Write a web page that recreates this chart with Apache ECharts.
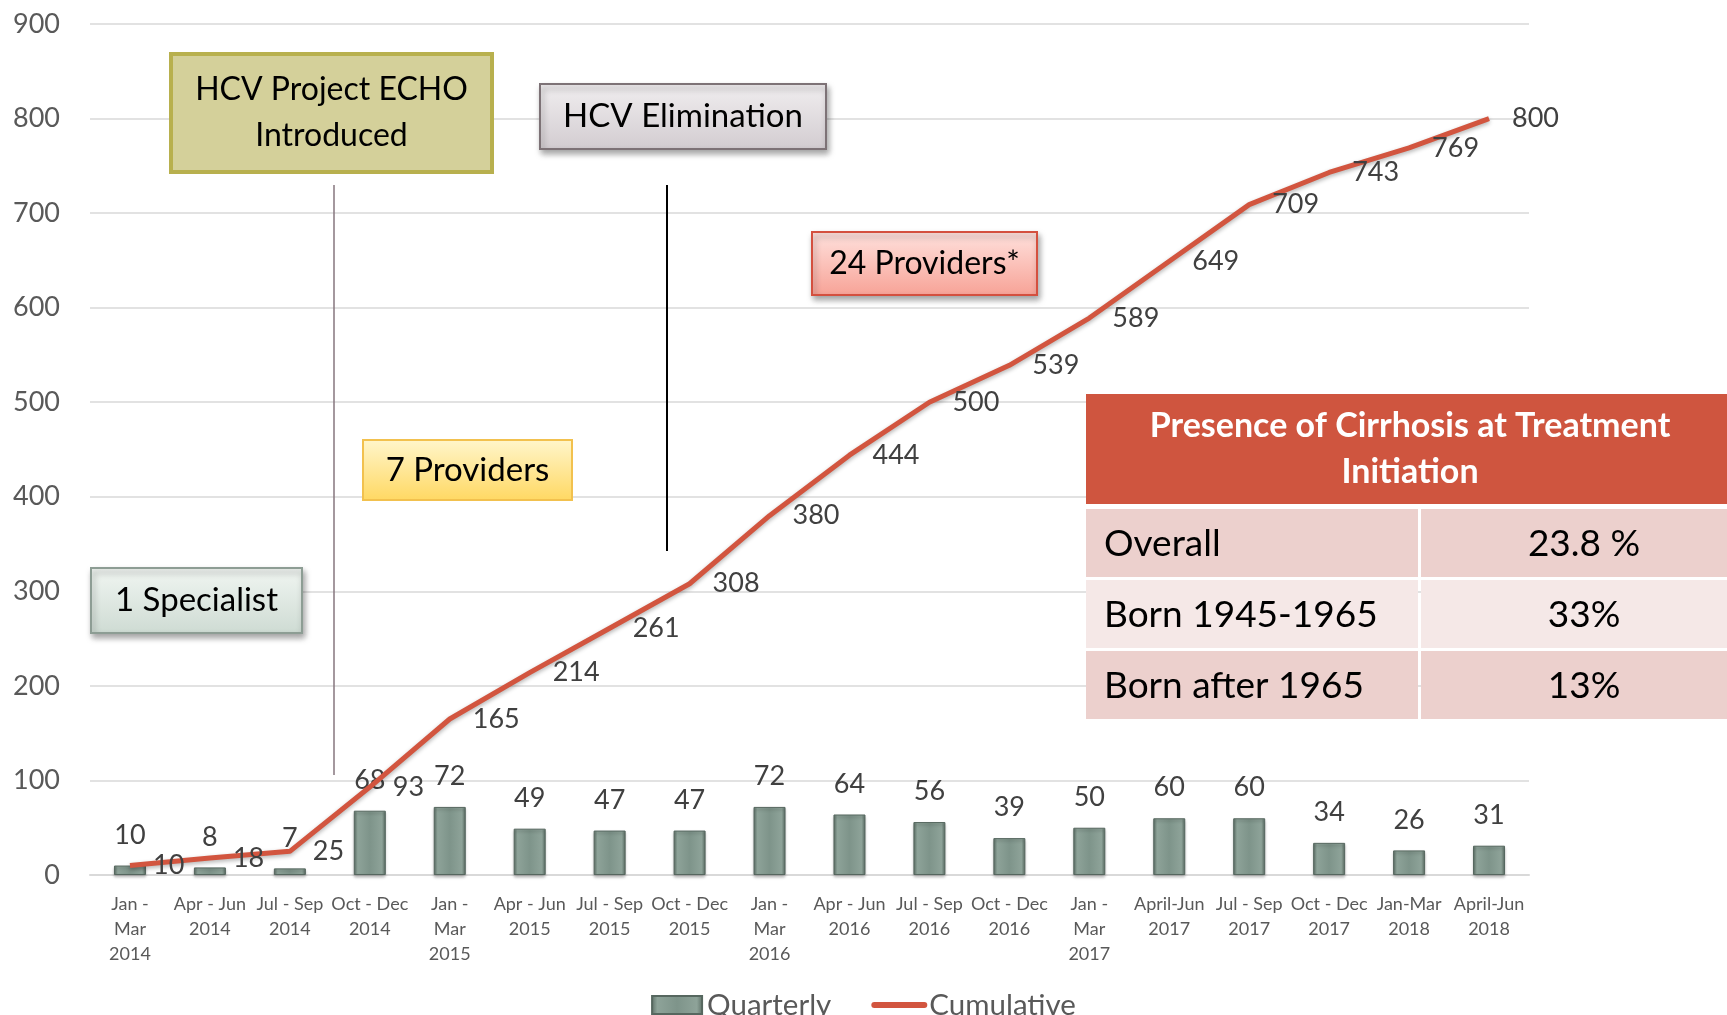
<!DOCTYPE html>
<html>
<head>
<meta charset="utf-8">
<script src="https://cdn.jsdelivr.net/npm/echarts@6/dist/echarts.min.js"></script>
<style>
  html, body { margin: 0; padding: 0; background: #fff; }
  #chart { width: 1727px; height: 1015px; }
</style>
</head>
<body>
<div id="chart"></div>
<script>
// categories (quarters)
const quarters = [
  'Jan -\nMar\n2014', 'Apr - Jun\n2014', 'Jul - Sep\n2014', 'Oct - Dec\n2014',
  'Jan -\nMar\n2015', 'Apr - Jun\n2015', 'Jul - Sep\n2015', 'Oct - Dec\n2015',
  'Jan -\nMar\n2016', 'Apr - Jun\n2016', 'Jul - Sep\n2016', 'Oct - Dec\n2016',
  'Jan -\nMar\n2017', 'April-Jun\n2017', 'Jul - Sep\n2017', 'Oct - Dec\n2017',
  'Jan-Mar\n2018', 'April-Jun\n2018'
]
// patients treated per quarter
const quarterly = [10, 8, 7, 68, 72, 49, 47, 47, 72, 64, 56, 39, 50, 60, 60, 34, 26, 31]
// running total
const cumulative = [10, 18, 25, 93, 165, 214, 261, 308, 380, 444, 500, 539, 589, 649, 709, 743, 769, 800]

// cirrhosis table
const tableTitle = 'Presence of Cirrhosis at Treatment\nInitiation'
const tableRows = ['Overall', 'Born 1945-1965', 'Born after 1965']
const tableValues = ['23.8 %', '33%', '13%']

const FONT = 'Lato'
const RED = '#d2553f'

const vGrad = (top, bottom) => new echarts.graphic.LinearGradient(0, 0, 0, 1, [
  { offset: 0, color: top },
  { offset: 1, color: bottom }
])

// callout box helper
const box = (x, y, w, h, text, size, fill, stroke, lw, shadow) => ({
  type: 'group',
  z: 10,
  children: [
    {
      type: 'rect',
      z: 10,
      shape: { x, y, width: w, height: h },
      style: {
        fill, stroke, lineWidth: lw,
        shadowBlur: shadow ? 6 : 0,
        shadowOffsetX: shadow ? 2 : 0,
        shadowOffsetY: shadow ? 4 : 0,
        shadowColor: 'rgba(0,0,0,0.35)'
      }
    },
    {
      type: 'text',
      z: 11,
      x: x + w / 2,
      y: y + h / 2,
      style: {
        text, fill: '#000', font: size + 'px ' + FONT,
        align: 'center', verticalAlign: 'middle', lineHeight: 46
      }
    }
  ]
})

const tableGraphic = () => {
  const items = [
    { type: 'rect', z: 10, shape: { x: 1086, y: 394, width: 641, height: 110 }, style: { fill: '#cf553f' } },
    {
      type: 'text', z: 11, x: 1410, y: 449,
      style: {
        text: tableTitle, fill: '#fff', font: 'bold 34px ' + FONT,
        align: 'center', verticalAlign: 'middle', lineHeight: 46
      }
    }
  ]
  const rowY = [509, 580, 651]
  const rowFill = ['#ecd0cd', '#f5e8e7', '#ecd0cd']
  tableRows.forEach((label, i) => {
    items.push({ type: 'rect', z: 10, shape: { x: 1086, y: rowY[i], width: 332, height: 68 }, style: { fill: rowFill[i] } })
    items.push({ type: 'rect', z: 10, shape: { x: 1421, y: rowY[i], width: 306, height: 68 }, style: { fill: rowFill[i] } })
    items.push({
      type: 'text', z: 11, x: 1104, y: rowY[i] + 35,
      style: { text: label, fill: '#000', font: '37px ' + FONT, align: 'left', verticalAlign: 'middle' }
    })
    items.push({
      type: 'text', z: 11, x: 1584, y: rowY[i] + 35,
      style: { text: tableValues[i], fill: '#000', font: '37px ' + FONT, align: 'center', verticalAlign: 'middle' }
    })
  })
  return { type: 'group', z: 10, children: items }
}

const barFill = new echarts.graphic.LinearGradient(0, 0, 1, 0, [
  { offset: 0, color: '#5b6e65' },
  { offset: 0.12, color: '#8ea399' },
  { offset: 0.5, color: '#7e948a' },
  { offset: 0.88, color: '#8ea399' },
  { offset: 1, color: '#5b6e65' }
])

const option = {
  animation: false,
  textStyle: { fontFamily: FONT },
  grid: { left: 90, right: 198, top: 24, bottom: 140 },
  legend: {
    top: 985,
    left: 'center',
    itemWidth: 50,
    itemHeight: 18,
    itemGap: 40,
    textStyle: { fontSize: 29.5, color: '#595959', fontFamily: FONT, lineHeight: 28 },
    data: [
      { name: 'Quarterly', icon: 'rect' },
      {
        name: 'Cumulative',
        itemStyle: { opacity: 0 },
        lineStyle: { color: RED, width: 6, cap: 'round' }
      }
    ]
  },
  xAxis: {
    type: 'category',
    data: quarters,
    axisTick: { show: false },
    axisLine: { lineStyle: { color: '#d9d9d9', width: 2 } },
    axisLabel: {
      interval: 0, color: '#595959', fontSize: 18, lineHeight: 25, margin: 17, fontFamily: FONT
    }
  },
  yAxis: {
    type: 'value',
    min: 0,
    max: 900,
    interval: 100,
    axisLine: { show: false },
    axisTick: { show: false },
    axisLabel: { color: '#595959', fontSize: 27, margin: 30, fontFamily: FONT },
    splitLine: { lineStyle: { color: '#d9d9d9', width: 1.5 } }
  },
  series: [
    {
      name: 'Quarterly',
      type: 'bar',
      data: quarterly,
      barWidth: 32,
      itemStyle: {
        color: barFill,
        borderColor: '#56675f',
        borderWidth: 1,
        shadowBlur: 3,
        shadowOffsetY: 2,
        shadowColor: 'rgba(0,0,0,0.25)'
      },
      label: {
        show: true, position: 'top', distance: 17,
        fontSize: 27, color: '#404040', fontFamily: FONT
      }
    },
    {
      name: 'Cumulative',
      type: 'line',
      data: cumulative,
      symbol: 'circle',
      symbolSize: 2,
      showSymbol: true,
      z: 5,
      lineStyle: {
        color: RED, width: 5,
        shadowBlur: 4, shadowOffsetY: 2, shadowColor: 'rgba(0,0,0,0.3)'
      },
      itemStyle: { color: 'rgba(0,0,0,0)' },
      label: {
        show: true, position: 'right', distance: 22, offset: [0, 3],
        fontSize: 27, color: '#404040', fontFamily: FONT
      },
      labelLayout: { hideOverlap: false }
    }
  ],
  graphic: [
    { type: 'line', z: 10, shape: { x1: 334, y1: 185, x2: 334, y2: 775 }, style: { stroke: '#86767e', lineWidth: 1.5 } },
    { type: 'line', z: 10, shape: { x1: 667, y1: 185, x2: 667, y2: 551 }, style: { stroke: '#000', lineWidth: 2 } },
    box(171, 54, 321, 118, 'HCV Project ECHO\nIntroduced', 32, '#d4d09a', '#b8b04e', 4, false),
    box(540, 84, 286, 65, 'HCV Elimination', 33, vGrad('#f1eef0', '#d2ccd0'), '#7d7276', 2, true),
    box(812, 232, 225, 63, '24 Providers*', 32, vGrad('#ffe2de', '#f7a296'), '#d4503f', 2, true),
    box(363, 440, 209, 60, '7 Providers', 33, vGrad('#fff6cc', '#ffd862'), '#f2c14e', 2, false),
    box(91, 568, 211, 65, '1 Specialist', 33, vGrad('#f1f6f2', '#cedbd3'), '#8d9d94', 2, true),
    tableGraphic()
  ]
}

const myChart = echarts.init(document.getElementById('chart'))
myChart.setOption(option)
window.onresize = () => {
  myChart.resize()
}
</script>
</body>
</html>
